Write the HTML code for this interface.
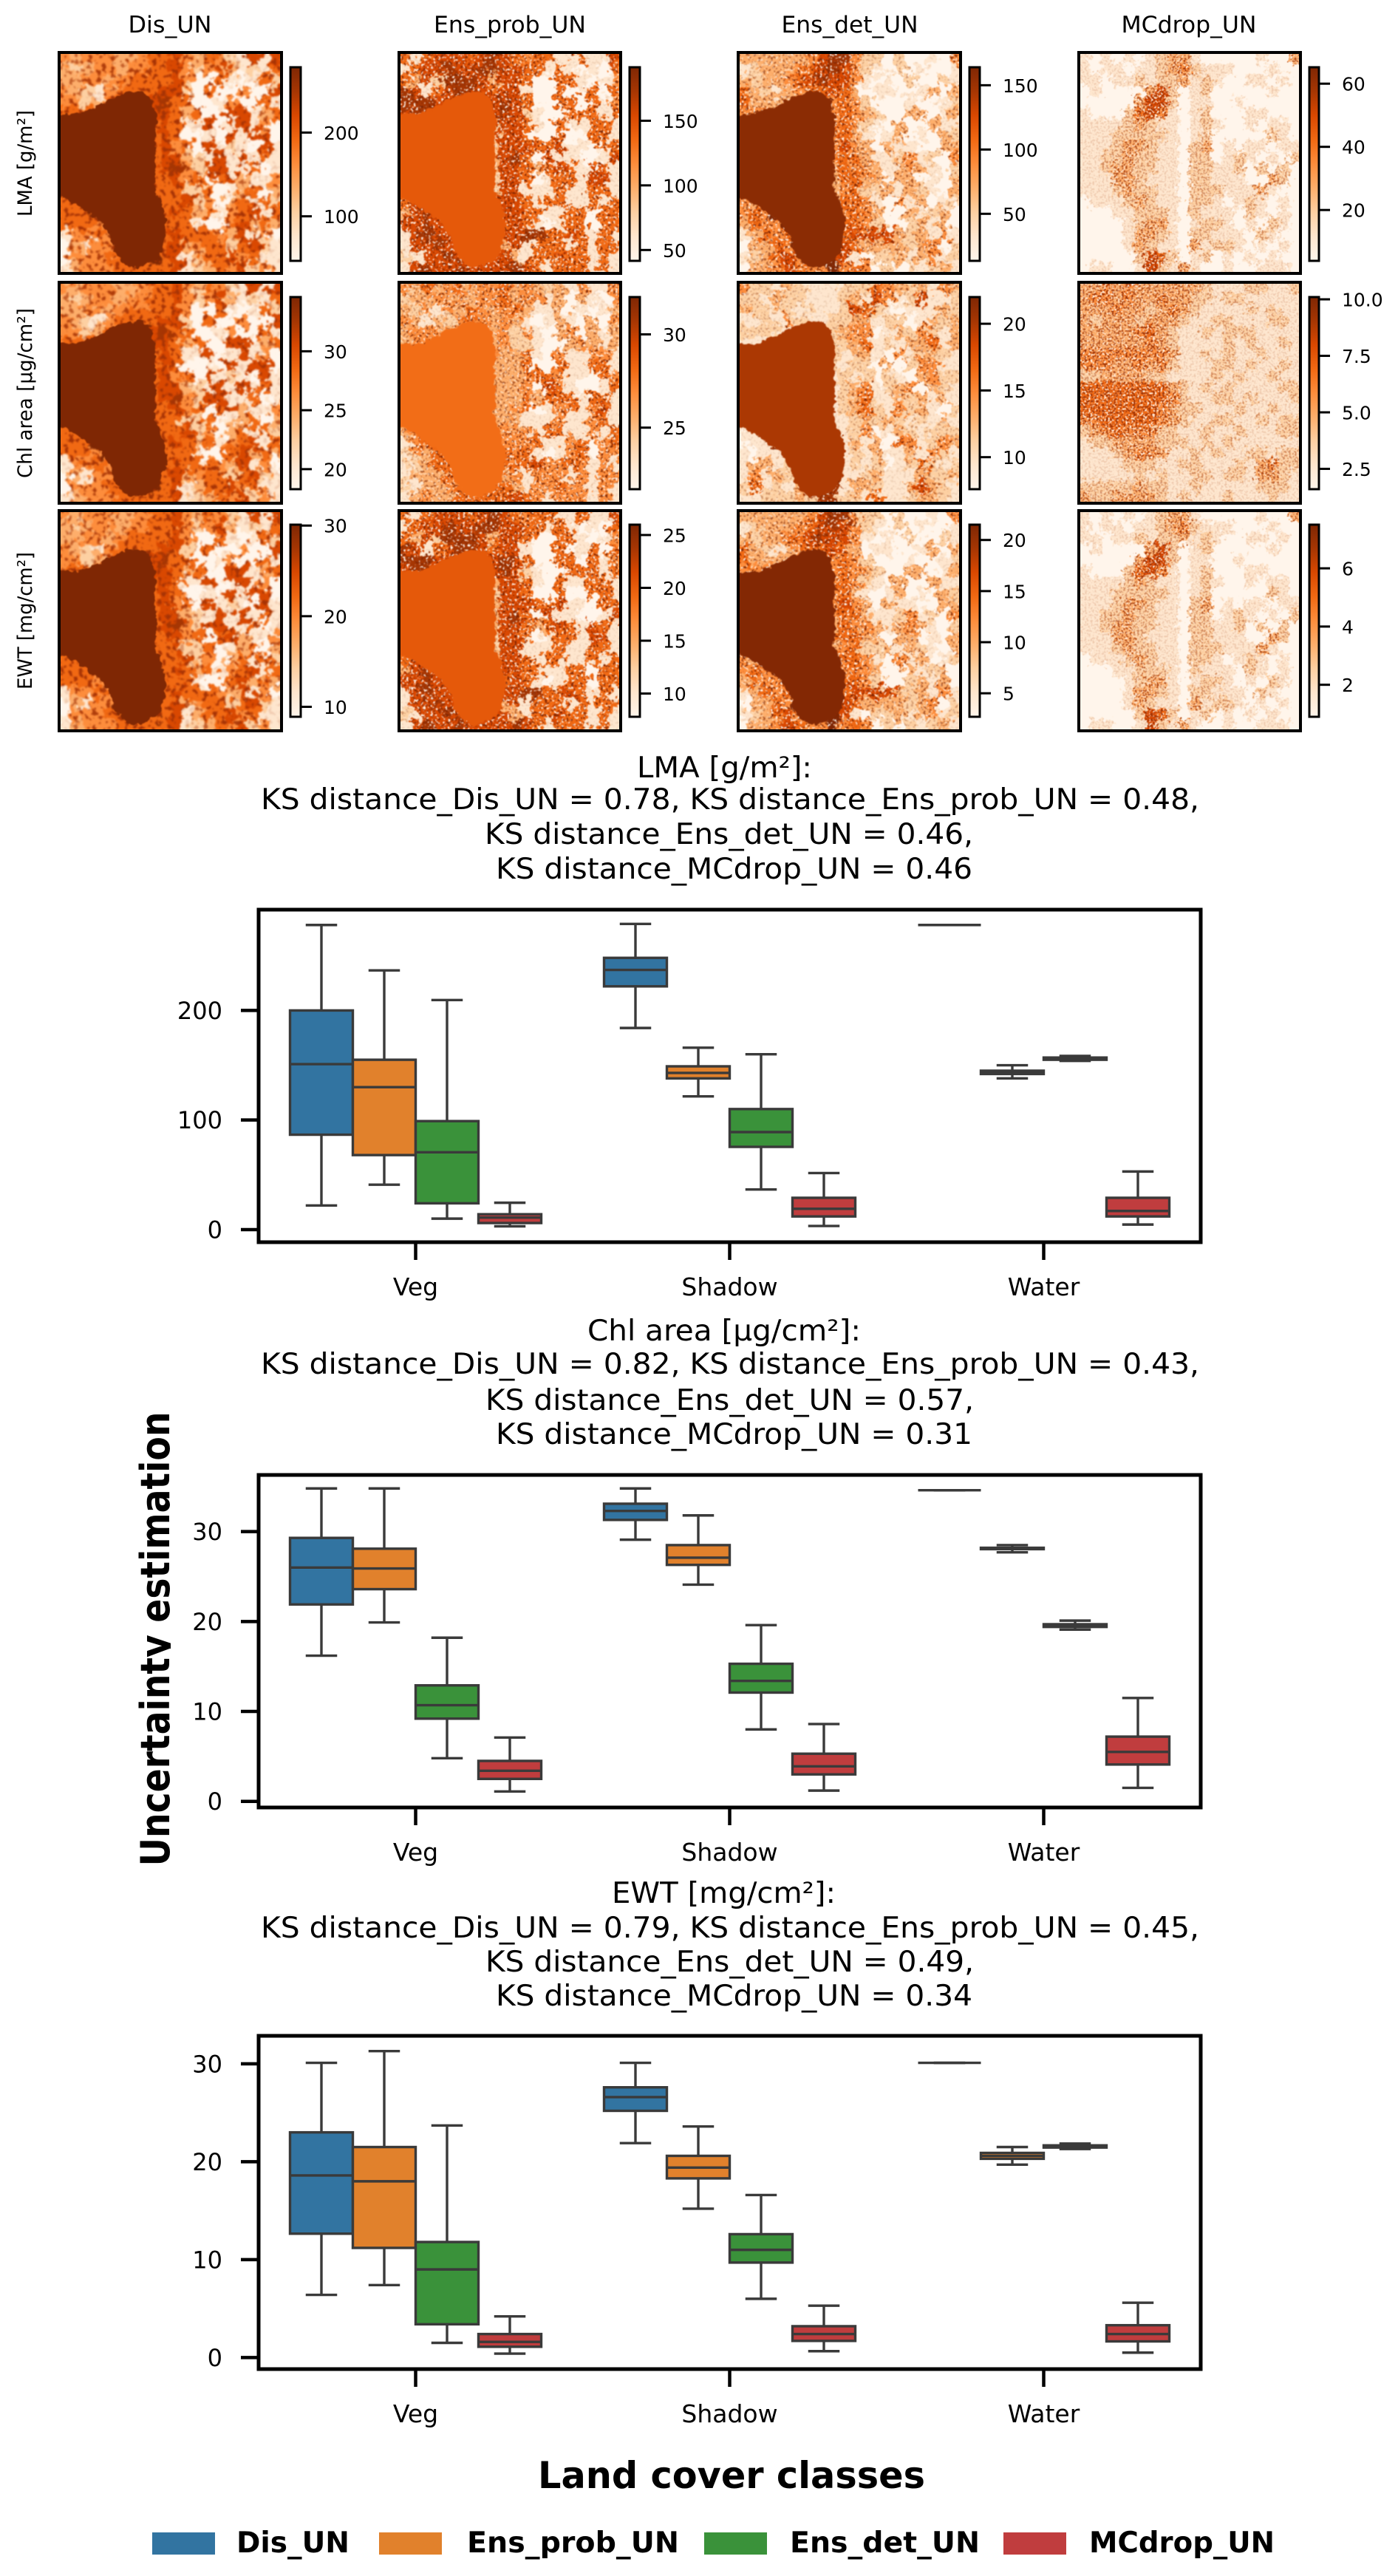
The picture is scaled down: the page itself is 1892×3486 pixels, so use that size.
<!DOCTYPE html>
<html lang="en">
<head>
<meta charset="utf-8">
<title>Uncertainty estimation maps and box plots</title>
<style>
html,body{margin:0;padding:0;background:#fff;}
svg{display:block;font-family:"DejaVu Sans","Liberation Sans",sans-serif;}
.t{font-size:39px;fill:#000;}
.h{font-size:31px;fill:#000;text-anchor:middle;}
.r{font-size:27px;fill:#000;text-anchor:middle;}
.b{font-weight:bold;fill:#000;}
.lg{font-size:39px;font-weight:bold;fill:#000;}
</style>
</head>
<body>
<svg id="figure" xmlns="http://www.w3.org/2000/svg" width="1892" height="3486" viewBox="0 0 1892 3486">
<defs>
<linearGradient id="oranges" x1="0" y1="1" x2="0" y2="0">
<stop offset="0" stop-color="#fff5eb"/><stop offset=".125" stop-color="#fee6ce"/><stop offset=".25" stop-color="#fdd0a2"/><stop offset=".375" stop-color="#fdae6b"/><stop offset=".5" stop-color="#fd8d3c"/><stop offset=".625" stop-color="#f16913"/><stop offset=".75" stop-color="#d94801"/><stop offset=".875" stop-color="#a63603"/><stop offset="1" stop-color="#7f2704"/>
</linearGradient>
<filter id="mottle" x="-10%" y="-10%" width="120%" height="120%" color-interpolation-filters="sRGB">
<feTurbulence type="fractalNoise" baseFrequency="0.085" numOctaves="4" seed="4" result="n"/>
<feDisplacementMap in="SourceGraphic" in2="n" scale="32" xChannelSelector="R" yChannelSelector="G" result="d"/>
<feTurbulence type="fractalNoise" baseFrequency="0.16" numOctaves="2" seed="17" result="f"/>
<feColorMatrix in="f" type="matrix" values="0 0 0 0 .65  0 0 0 0 .2  0 0 0 0 .02  11 0 0 0 -6.2" result="dk"/>
<feColorMatrix in="d" type="matrix" values="0 0 0 0 .5  0 0 0 0 .5  0 0 0 0 .5  0 0 -1.3 0 1.2" result="m"/>
<feComposite in="dk" in2="m" operator="in" result="dk2"/>
<feMerge><feMergeNode in="d"/><feMergeNode in="dk2"/></feMerge>
<feGaussianBlur stdDeviation="1"/>
</filter>
<filter id="speckle" x="-10%" y="-10%" width="120%" height="120%" color-interpolation-filters="sRGB">
<feTurbulence type="fractalNoise" baseFrequency="0.09" numOctaves="4" seed="8" result="n"/>
<feDisplacementMap in="SourceGraphic" in2="n" scale="30" xChannelSelector="R" yChannelSelector="G" result="d"/>
<feTurbulence type="fractalNoise" baseFrequency="0.3" numOctaves="2" seed="21" result="f"/>
<feColorMatrix in="f" type="matrix" values="0 0 0 0 .5  0 0 0 0 .15  0 0 0 0 .01  16 0 0 0 -9.4" result="dk"/>
<feColorMatrix in="f" type="matrix" values="0 0 0 0 1  0 0 0 0 .96  0 0 0 0 .92  0 16 0 0 -9.8" result="wh"/>
<feColorMatrix in="d" type="matrix" values="0 0 0 0 .5  0 0 0 0 .5  0 0 0 0 .5  0 0 -1.4 0 1.25" result="m"/>
<feComposite in="dk" in2="m" operator="in" result="dk2"/>
<feComposite in="wh" in2="m" operator="in" result="wh2"/>
<feMerge><feMergeNode in="d"/><feMergeNode in="dk2"/><feMergeNode in="wh2"/></feMerge>
<feGaussianBlur stdDeviation="0.7"/>
</filter>
<filter id="grain" x="-10%" y="-10%" width="120%" height="120%" color-interpolation-filters="sRGB">
<feTurbulence type="fractalNoise" baseFrequency="0.16" numOctaves="3" seed="9" result="n"/>
<feDisplacementMap in="SourceGraphic" in2="n" scale="22" xChannelSelector="R" yChannelSelector="G" result="d"/>
<feTurbulence type="fractalNoise" baseFrequency="0.38" numOctaves="2" seed="33" result="f"/>
<feColorMatrix in="f" type="matrix" values="0 0 0 0 .62  0 0 0 0 .2  0 0 0 0 .02  18 0 0 0 -9.8" result="dk"/>
<feColorMatrix in="f" type="matrix" values="0 0 0 0 1  0 0 0 0 .96  0 0 0 0 .92  0 12 0 0 -6.6" result="wh"/>
<feColorMatrix in="d" type="matrix" values="0 0 0 0 .5  0 0 0 0 .5  0 0 0 0 .5  0 0 -1.6 0 1.45" result="m"/>
<feComposite in="dk" in2="m" operator="in" result="dk2"/>
<feComposite in="wh" in2="m" operator="in" result="wh2"/>
<feMerge><feMergeNode in="d"/><feMergeNode in="wh2"/><feMergeNode in="dk2"/></feMerge>
<feGaussianBlur stdDeviation="0.6"/>
</filter>
<filter id="shore" x="-15%" y="-15%" width="130%" height="130%" color-interpolation-filters="sRGB">
<feTurbulence type="fractalNoise" baseFrequency="0.13" numOctaves="2" seed="5" result="n"/>
<feDisplacementMap in="SourceGraphic" in2="n" scale="9" xChannelSelector="R" yChannelSelector="G"/>
<feGaussianBlur stdDeviation="0.7"/>
</filter>
<clipPath id="ytitle-clip"><rect x="150" y="1850" width="81" height="720"/></clipPath>
</defs>
<rect x="0" y="0" width="1892" height="3486" fill="#fff"/>

<g>
<text class="h" x="230" y="44" textLength="113" lengthAdjust="spacingAndGlyphs">Dis_UN</text>
<text class="h" x="690" y="44" textLength="206" lengthAdjust="spacingAndGlyphs">Ens_prob_UN</text>
<text class="h" x="1150" y="44" textLength="185" lengthAdjust="spacingAndGlyphs">Ens_det_UN</text>
<text class="h" x="1609" y="44" textLength="183" lengthAdjust="spacingAndGlyphs">MCdrop_UN</text>
</g>
<g>
<text class="r" transform="translate(43,221) rotate(-90)" textLength="144" lengthAdjust="spacingAndGlyphs">LMA [g/m²]</text>
<text class="r" transform="translate(43,532) rotate(-90)" textLength="230" lengthAdjust="spacingAndGlyphs">Chl area [µg/cm²]</text>
<text class="r" transform="translate(43,840) rotate(-90)" textLength="186" lengthAdjust="spacingAndGlyphs">EWT [mg/cm²]</text>
</g>
<g id="panels"></g>

<g>
<text class="t" x="862" y="1052" textLength="237" lengthAdjust="spacingAndGlyphs">LMA [g/m²]:</text>
<text class="t" x="353" y="1095" textLength="1270" lengthAdjust="spacingAndGlyphs">KS distance_Dis_UN = 0.78, KS distance_Ens_prob_UN = 0.48,</text>
<text class="t" x="656" y="1142" textLength="661" lengthAdjust="spacingAndGlyphs">KS distance_Ens_det_UN = 0.46,</text>
<text class="t" x="671" y="1189" textLength="645" lengthAdjust="spacingAndGlyphs">KS distance_MCdrop_UN = 0.46</text>
</g>
<g>
<text class="t" x="795" y="1814" textLength="370" lengthAdjust="spacingAndGlyphs">Chl area [µg/cm²]:</text>
<text class="t" x="353" y="1859" textLength="1270" lengthAdjust="spacingAndGlyphs">KS distance_Dis_UN = 0.82, KS distance_Ens_prob_UN = 0.43,</text>
<text class="t" x="657" y="1908" textLength="661" lengthAdjust="spacingAndGlyphs">KS distance_Ens_det_UN = 0.57,</text>
<text class="t" x="671" y="1954" textLength="645" lengthAdjust="spacingAndGlyphs">KS distance_MCdrop_UN = 0.31</text>
</g>
<g>
<text class="t" x="828" y="2575" textLength="303" lengthAdjust="spacingAndGlyphs">EWT [mg/cm²]:</text>
<text class="t" x="353" y="2622" textLength="1270" lengthAdjust="spacingAndGlyphs">KS distance_Dis_UN = 0.79, KS distance_Ens_prob_UN = 0.45,</text>
<text class="t" x="657" y="2668" textLength="661" lengthAdjust="spacingAndGlyphs">KS distance_Ens_det_UN = 0.49,</text>
<text class="t" x="671" y="2714" textLength="645" lengthAdjust="spacingAndGlyphs">KS distance_MCdrop_UN = 0.34</text>
</g>

<g id="boxplots"></g>

<g clip-path="url(#ytitle-clip)">
<text class="b" style="font-size:54px" text-anchor="middle" transform="translate(229,2218) rotate(-90)" textLength="615" lengthAdjust="spacingAndGlyphs">Uncertainty estimation</text>
</g>
<text class="b" style="font-size:50px" x="728" y="3367" textLength="524" lengthAdjust="spacingAndGlyphs">Land cover classes</text>

<g>
<g><rect x="206" y="3427" width="85" height="30" fill="#3274a1"/><text class="lg" x="320" y="3454" textLength="153" lengthAdjust="spacingAndGlyphs">Dis_UN</text></g>
<g><rect x="513" y="3427" width="85" height="30" fill="#e1812c"/><text class="lg" x="632" y="3454" textLength="287" lengthAdjust="spacingAndGlyphs">Ens_prob_UN</text></g>
<g><rect x="953" y="3427" width="85" height="30" fill="#3a923a"/><text class="lg" x="1069" y="3454" textLength="257" lengthAdjust="spacingAndGlyphs">Ens_det_UN</text></g>
<g><rect x="1358" y="3427" width="85" height="30" fill="#c03d3e"/><text class="lg" x="1474" y="3454" textLength="251" lengthAdjust="spacingAndGlyphs">MCdrop_UN</text></g>
</g>
</svg>

<script>
/* ---------- box plot data: [low whisker, q1, median, q3, high whisker] per category ---------- */
const categories = ['Veg', 'Shadow', 'Water'];
const seriesNames = ['Dis_UN', 'Ens_prob_UN', 'Ens_det_UN', 'MCdrop_UN'];
const seriesColors = ['#3274a1', '#e1812c', '#3a923a', '#c03d3e'];

const lmaDis  = [[22, 86.6, 151, 200, 278], [184, 222, 237, 248, 279], [278, 278, 278, 278, 278]];
const lmaProb = [[41, 68, 130, 155, 236.6], [121.6, 138, 143, 149, 166], [138, 142, 143.5, 145, 150]];
const lmaDet  = [[10, 24, 70.6, 99, 209.5], [36.6, 75.5, 89, 110, 160], [154, 155, 156, 157, 158.5]];
const lmaMc   = [[3, 6, 11, 14, 24.5], [3.3, 12, 19, 29, 51.6], [4.6, 12, 17, 29, 53]];
const lmaTicks = [0, 100, 200];
const lmaDomain = [-11.5, 292];

const chlDis  = [[16.2, 21.9, 26, 29.3, 34.8], [29.1, 31.3, 32.3, 33.1, 34.8], [34.6, 34.6, 34.6, 34.6, 34.6]];
const chlProb = [[19.9, 23.6, 25.9, 28.1, 34.8], [24.1, 26.3, 27.1, 28.5, 31.8], [27.7, 28.05, 28.15, 28.2, 28.5]];
const chlDet  = [[4.8, 9.2, 10.7, 12.9, 18.2], [8, 12.1, 13.4, 15.3, 19.6], [19.1, 19.4, 19.55, 19.7, 20.1]];
const chlMc   = [[1.1, 2.5, 3.4, 4.5, 7.1], [1.2, 3, 3.9, 5.3, 8.6], [1.5, 4.1, 5.5, 7.2, 11.5]];
const chlTicks = [0, 10, 20, 30];
const chlDomain = [-0.68, 36.3];

const ewtDis  = [[6.4, 12.65, 18.6, 23, 30.1], [21.9, 25.2, 26.6, 27.6, 30.1], [30.1, 30.1, 30.1, 30.1, 30.1]];
const ewtProb = [[7.4, 11.2, 18, 21.5, 31.3], [15.2, 18.3, 19.4, 20.6, 23.6], [19.7, 20.3, 20.6, 20.9, 21.5]];
const ewtDet  = [[1.5, 3.4, 9, 11.8, 23.7], [6, 9.7, 11, 12.6, 16.6], [21.3, 21.45, 21.6, 21.67, 21.85]];
const ewtMc   = [[0.4, 1.1, 1.6, 2.4, 4.2], [0.65, 1.7, 2.4, 3.2, 5.3], [0.5, 1.65, 2.4, 3.3, 5.6]];
const ewtTicks = [0, 10, 20, 30];
const ewtDomain = [-1.18, 32.86];

/* ---------- colour bar data ---------- */
const cbarDomainsLma = [[46.8, 278], [41.6, 191.4], [13.4, 164], [3.9, 65.2]];
const cbarDomainsChl = [[18.3, 34.6], [21.7, 32], [7.6, 22], [1.6, 10.1]];
const cbarDomainsEwt = [[8.9, 30.1], [7.8, 25.98], [2.7, 21.5], [0.9, 7.5]];
const cbarTicksLma = [['100', '200'], ['50', '100', '150'], ['50', '100', '150'], ['20', '40', '60']];
const cbarTicksChl = [['20', '25', '30'], ['25', '30'], ['10', '15', '20'], ['2.5', '5.0', '7.5', '10.0']];
const cbarTicksEwt = [['10', '20', '30'], ['10', '15', '20', '25'], ['5', '10', '15', '20'], ['2', '4', '6']];

/* ---------- heatmap data: coarse 20x20 intensity grids (0 light .. 8 dark, Oranges) ---------- */
const gridDis = ["43444334556435421616","32344344556424631215","33443455556400510152","43214555566205004006","44235588675500140051","55555888665350066135","88888888565116016140","88888888565001061660","88888888564506121061","88888888566321616151","88888888567426611501","88888888556450563114","88888888555225013503","55888888555624035152","55588888856535145615","55548888855510056353","14454888856555436140","03144888856345525621","04445588856135564511","13444555556123546241"];
const gridProb = ["51566656765455115116","15667667766551510105","53627776366500551014","76156776566100501505","77766766676500550514","67766666676210055515","66666666366510511551","66666666266500500551","66666666366655611055","66666666367506110016","66666666366535651651","66666666266501551661","66666666266111511551","56666666366515511515","36766666366551155055","66766666656510155055","16766666666775565151","16676666636155515155","21667666663155655151","16766766667651555151"];
const gridProbChl = ["43534534453432314114","23343434453441303104","32414354345311301013","43132454343101310304","34443444342410340313","34444444342210034313","55555555433510411441","55555555333500511551","55555555333455411054","55555555333406510015","55555555333535551551","55555555334501451461","55555555333111411451","34555555344415511415","14555555444451145045","24355555554510145044","12355555555564454141","13335555534144414144","21334455553144544141","13433555556541444141"];
const gridDet = ["33333346774220200104","12333456764210201001","32334567664101020021","53213455653011001303","53333388454200010012","44448888454320033013","88888888454210300311","88888888453101301032","88888888464303110033","88888888455311241204","88888888354431343102","88888888355330330103","88888888345223132103","43888888355410413012","45488888845430031230","35448888855420023130","13545888856666323141","03354888865333323402","12356488861022313412","03346544845402021231"];
const gridDetChl = ["42213211122254323143","22132211123164126112","32212121126521011132","11214211223312201323","22221177234401324213","11111777223512133513","77777777213310412321","77777777212203024411","77777777121202103422","77777777123412340321","77777777123511323131","77777777123521423102","77777777112323212131","11777777112401321222","01177777713130541243","10117777712131131421","13312377712120125212","14132377711231113223","25121377713321136321","11222327722151123321"];
const gridMc = ["10101012331000001003","10110112342111000100","11011212231210011010","01000036201200000100","00000366201100100000","10002564101200011000","11112321101210010110","11122222101200000210","11123321102301011011","11223221102201210102","11233221102211202020","11133211102211100320","11123221102221113100","01112321102210121010","00011222102111021010","00001233101221010210","00001332102211102100","00001321103122101010","00000265201201010100","01100162131001001110"];
const gridMcChl = ["33434333333211122112","34434334332212211111","33343323432111121211","32333233321122111221","33333453211212221111","33333343211112121121","44444444311212112111","44433434211122121121","22333322111121211211","55555555321212111122","55555555421122121112","55555554322111211211","44555554321122112122","23454442211211211122","12233332221212111111","11123443112121122122","11112221122111213422","11111212112212213321","22222322112111112221","32233332121112111211"];

/* water body mask, run-length per image row (percent of image height, then left/right percent of image width) */
const waterRows = [18.3, 20, 22, 25, 28, 28.6, 33, 40, 50, 56, 60, 63.3, 66, 68, 72, 76, 80, 84, 90, 93, 96, 96.8];
const waterLeft = [31, 27, 22, 17, 9, -6, -6, -6, -6, -6, -6, -6, 3.5, 7, 13, 19, 21.5, 24, 25.5, 27.5, 31, 33];
const waterRight = [37, 39.5, 41, 41.5, 42.5, 43, 43, 42.5, 43, 43, 42.5, 43, 44.5, 45.5, 46.5, 47.5, 47.5, 47, 45.5, 43.5, 38, 33];

const panelGrids = [
  [gridDis, gridProb, gridDet, gridMc],
  [gridDis, gridProbChl, gridDetChl, gridMcChl],
  [gridDis, gridProb, gridDet, gridMc]
];
/* colormap level of the water body per panel; null = no distinct water body in that map */
const waterLevels = [
  [8, 5.5, 7.7, null],
  [8, 4.9, 6.9, null],
  [8, 5.5, 7.9, null]
];

const panelSlug = ['dis-un', 'ens-prob-un', 'ens-det-un', 'mcdrop-un'];
const rowSlug = ['lma', 'chl', 'ewt'];
const panelFilters = ['url(#mottle)', 'url(#speckle)', 'url(#speckle)', 'url(#grain)'];
const cmap = [[255,245,235],[254,230,206],[253,208,162],[253,174,107],[253,141,60],[241,105,19],[217,72,1],[166,54,3],[127,39,4]];

const NS = 'http://www.w3.org/2000/svg';
function el(tag, attrs, parent) {
  const e = document.createElementNS(NS, tag);
  for (const k in attrs) e.setAttribute(k, attrs[k]);
  parent.appendChild(e);
  return e;
}
function levelColor(v) {
  const i = Math.min(7, Math.floor(v));
  const f = v - i;
  const c = cmap[i].map((a, j) => Math.round(a + (cmap[i + 1][j] - a) * f));
  return 'rgb(' + c.join(',') + ')';
}

/* ---------- heatmap panels ---------- */
const panelsRoot = document.getElementById('panels');
const colX = [[80, 381], [540, 840], [999, 1300], [1460, 1760]];
const rowY = [[71, 370], [382, 681], [691, 989]];
const cbarX = [[393, 407], [852, 866], [1312, 1326], [1772, 1785]];
const cbarY = [[91, 353], [402, 662], [710, 970]];
const cbarDomains = [cbarDomainsLma, cbarDomainsChl, cbarDomainsEwt];
const cbarTicks = [cbarTicksLma, cbarTicksChl, cbarTicksEwt];

rowY.forEach(function (ry, r) {
  colX.forEach(function (cx, c) {
    const g = el('g', {}, panelsRoot);
    
    
    const w = cx[1] - cx[0], h = ry[1] - ry[0];
    const clipId = 'clip-' + r + '-' + c;
    const defs = el('clipPath', { id: clipId }, g);
    el('rect', { x: cx[0], y: ry[0], width: w, height: h }, defs);
    const clipG = el('g', { 'clip-path': 'url(#' + clipId + ')' }, g);
    const cells = el('g', { filter: panelFilters[c] }, clipG);
    const grid = panelGrids[r][c];
    const nr = grid.length;
    grid.forEach(function (line, i) {
      const nc = line.length;
      for (let j = 0; j < nc; j++) {
        const pad = 22;
        const x0 = cx[0] + j * w / nc - (j === 0 ? pad : 0);
        const x1 = cx[0] + (j + 1) * w / nc + (j === nc - 1 ? pad : 0.6);
        const y0 = ry[0] + i * h / nr - (i === 0 ? pad : 0);
        const y1 = ry[0] + (i + 1) * h / nr + (i === nr - 1 ? pad : 0.6);
        const cell = el('rect', { x: x0, y: y0, width: x1 - x0, height: y1 - y0, fill: levelColor(+line[j]) }, cells);
        
        
      }
    });
    const level = waterLevels[r][c];
    if (level !== null) {
      const pts = [];
      waterRows.forEach(function (yy, i) { pts.push((cx[0] + waterLeft[i] / 100 * w) + ',' + (ry[0] + yy / 100 * h)); });
      for (let i = waterRows.length - 1; i >= 0; i--) pts.push((cx[0] + waterRight[i] / 100 * w) + ',' + (ry[0] + waterRows[i] / 100 * h));
      const water = el('polygon', { points: pts.join(' '), fill: levelColor(level), stroke: levelColor(level), 'stroke-width': 3, 'stroke-linejoin': 'round', filter: 'url(#shore)' }, clipG);
      
      
    }
    const frame = el('rect', { x: cx[0], y: ry[0], width: w, height: h, fill: 'none', stroke: '#000', 'stroke-width': 4 }, g);
    
    

    /* colour bar */
    const bx = cbarX[c], by = cbarY[r];
    const dom = cbarDomains[r][c];
    const cb = el('g', {}, panelsRoot);
    
    
    el('rect', { x: bx[0], y: by[0], width: bx[1] - bx[0], height: by[1] - by[0], fill: 'url(#oranges)', stroke: '#000', 'stroke-width': 3 }, cb);
    const yOf = function (v) { return by[1] - (v - dom[0]) / (dom[1] - dom[0]) * (by[1] - by[0]); };
    cbarTicks[r][c].forEach(function (lab) {
      const y = yOf(parseFloat(lab));
      const tick = el('line', { x1: bx[1], x2: bx[1] + 15, y1: y, y2: y, stroke: '#000', 'stroke-width': 3 }, cb);
      
      
      const text = el('text', { x: bx[1] + 31, y: y + 9.5, 'font-size': 25, fill: '#000' }, cb);
      text.textContent = lab;
      
      
    });
  });
});

/* ---------- box plots ---------- */
const boxRoot = document.getElementById('boxplots');
const plotLeft = 350, plotRight = 1625;
function xScale(cat, offset) {
  return plotLeft + (cat + 0.5 + offset) / categories.length * (plotRight - plotLeft);
}
function drawBoxPlot(slug, series, ticks, domain, top, bottom) {
  const g = el('g', {}, boxRoot);
  
  
  const yScale = function (v) { return bottom - (v - domain[0]) / (domain[1] - domain[0]) * (bottom - top); };
  const offs = [-0.3, -0.1, 0.1, 0.3];
  const boxW = 0.2 / categories.length * (plotRight - plotLeft);
  series.forEach(function (values, s) {
    values.forEach(function (five, cat) {
      const cx = xScale(cat, offs[s]);
      const box = el('g', { stroke: '#3a3a3a', 'stroke-width': 3.4, fill: 'none' }, g);
      
      
      const low = yScale(five[0]), q1 = yScale(five[1]), med = yScale(five[2]), q3 = yScale(five[3]), high = yScale(five[4]);
      el('line', { x1: cx, x2: cx, y1: high, y2: q3 }, box);
      el('line', { x1: cx, x2: cx, y1: q1, y2: low }, box);
      el('line', { x1: cx - boxW / 4, x2: cx + boxW / 4, y1: high, y2: high }, box);
      el('line', { x1: cx - boxW / 4, x2: cx + boxW / 4, y1: low, y2: low }, box);
      el('rect', { x: cx - boxW / 2, y: q3, width: boxW, height: Math.max(0, q1 - q3), fill: seriesColors[s] }, box);
      el('line', { x1: cx - boxW / 2, x2: cx + boxW / 2, y1: med, y2: med }, box);
    });
  });
  const frame = el('rect', { x: plotLeft, y: top, width: plotRight - plotLeft, height: bottom - top, fill: 'none', stroke: '#000', 'stroke-width': 5 }, g);
  
  
  ticks.forEach(function (t) {
    const y = yScale(t);
    const tick = el('line', { x1: plotLeft - 24, x2: plotLeft, y1: y, y2: y, stroke: '#000', 'stroke-width': 4.5 }, g);
    
    
    const lab = el('text', { x: 301, y: y + 11.5, 'font-size': 32, 'text-anchor': 'end', fill: '#000' }, g);
    lab.textContent = t;
    
    
  });
  categories.forEach(function (name, cat) {
    const x = xScale(cat, 0);
    const tick = el('line', { x1: x, x2: x, y1: bottom, y2: bottom + 24, stroke: '#000', 'stroke-width': 4.5 }, g);
    
    
    const lab = el('text', { x: x, y: bottom + 72, 'font-size': 33, 'text-anchor': 'middle', fill: '#000' }, g);
    lab.textContent = name;
    
    
  });
}
drawBoxPlot('lma', [lmaDis, lmaProb, lmaDet, lmaMc], lmaTicks, lmaDomain, 1231, 1681);
drawBoxPlot('chl', [chlDis, chlProb, chlDet, chlMc], chlTicks, chlDomain, 1996, 2446);
drawBoxPlot('ewt', [ewtDis, ewtProb, ewtDet, ewtMc], ewtTicks, ewtDomain, 2755, 3206);
</script>
</body>
</html>
